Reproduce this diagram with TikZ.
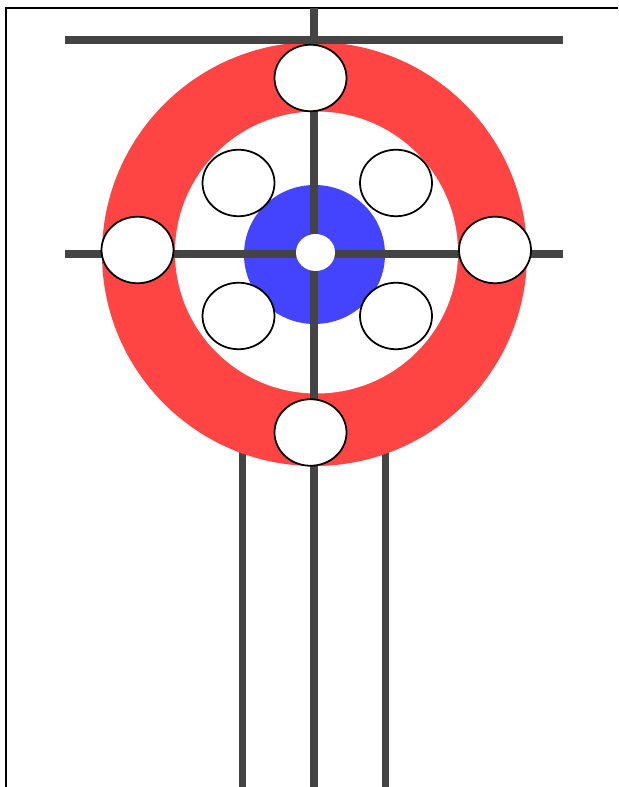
\documentclass[tikz,border=0pt]{standalone}
\usepackage{tikz}
\usetikzlibrary{shapes.geometric}
\definecolor{RingRed}{HTML}{FF4444}
\definecolor{ButtonBlue}{HTML}{4444FF}
\definecolor{LineGrey}{HTML}{444444}

\begin{document}
\begin{tikzpicture}[
  rinkline/.style={draw=LineGrey,line width=0.16cm},
  sideline/.style={draw=LineGrey,line width=0.14cm},
  stone/.style={ellipse,draw=black,fill=white,line width=0.035cm,inner sep=0pt,minimum width=1.44cm,minimum height=1.33cm}
]
  \useasboundingbox (0,0) rectangle (12.36,15.74);
  \fill[white] (0,0) rectangle (12.36,15.74);
  \draw[black,line width=0.05cm] (0.12,0) -- (0.12,15.58) -- (12.36,15.58);

  \draw[sideline] (4.85,0) -- (4.85,7);
  \draw[sideline] (7.71,0) -- (7.71,7);

  \fill[RingRed] (6.29,10.66) ellipse [x radius=4.25,y radius=4.24];
  \fill[white] (6.33,10.69) ellipse [x radius=2.83,y radius=2.82];
  \fill[ButtonBlue] (6.29,10.65) ellipse [x radius=1.41,y radius=1.39];

  \draw[rinkline] (6.28,0) -- (6.28,15.58);
  \draw[rinkline] (1.3,14.94) -- (11.26,14.94);
  \draw[rinkline] (1.3,10.66) -- (11.26,10.66);
  \fill[white] (6.31,10.69) ellipse [x radius=0.39,y radius=0.37];

  \foreach \n/\x/\y in {top/6.21/14.18,bottom/6.21/7.09,left/2.75/10.74,right/9.9/10.74,upleft/4.77/12.08,upright/7.92/12.08,lowleft/4.77/9.42,lowright/7.92/9.42}{
    \node[stone] (\n) at (\x,\y) {};
  }
\end{tikzpicture}
\end{document}
